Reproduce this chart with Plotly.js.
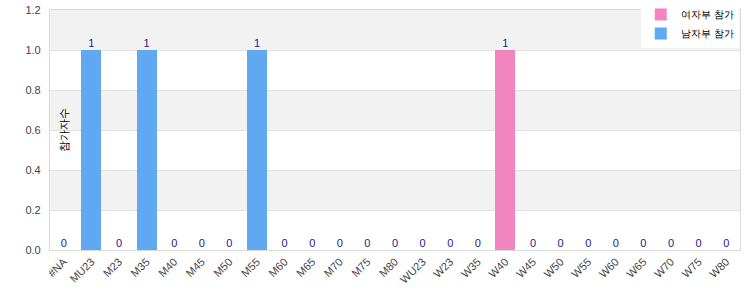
<!DOCTYPE html>
<html>
<head>
<meta charset="utf-8">
<script src="https://cdn.plot.ly/plotly-3.0.1.min.js"></script>
<style>html,body{margin:0;padding:0;background:#fff;}#chart{width:750px;height:300px;}</style>
</head>
<body>
<div id="chart"></div>
<script>
const categories = ["#NA","MU23","M23","M35","M40","M45","M50","M55","M60","M65","M70","M75","M80","WU23","W23","W35","W40","W45","W50","W55","W60","W65","W70","W75","W80"];
const maleValues   = [0,1,0,1,0,0,0,1,0,0,0,0,0,0,0,0,0,0,0,0,0,0,0,0,0];
const femaleValues = [0,0,0,0,0,0,0,0,0,0,0,0,0,0,0,0,1,0,0,0,0,0,0,0,0];
const maleName = "남자부 참가";
const femaleName = "여자부 참가";
const yTitle = "참가자수";
const totals = categories.map((c,i) => maleValues[i] + femaleValues[i]);

const font = "Liberation Sans, Arial, sans-serif";
const traces = [
  {type:"bar", x:categories, y:maleValues, name:maleName, marker:{color:"#60a8f2"}, hoverinfo:"x+y"},
  {type:"bar", x:categories, y:femaleValues, name:femaleName, marker:{color:"#f285bf"}, hoverinfo:"x+y"},
  {type:"scatter", mode:"text", x:categories, y:totals, text:totals.map(String), textposition:"top center",
   textfont:{color:"#1a1a8c", size:11, family:font}, showlegend:false, cliponaxis:false, hoverinfo:"skip"}
];
const bands = [[0.2,0.4],[0.6,0.8],[1.0,1.2]].map(b => ({type:"rect", xref:"paper", yref:"y", x0:0, x1:1, y0:b[0], y1:b[1], fillcolor:"#f2f2f2", line:{width:0}, layer:"below"}));
const layout = {
  width:750, height:300,
  margin:{l:50, r:10, t:10, b:50, autoexpand:false},
  paper_bgcolor:"#fff", plot_bgcolor:"#fff",
  barmode:"stack", bargap:0.27,
  font:{family:font, size:11, color:"#444"},
  showlegend:true,
  legend:{xref:"container", yref:"container", x:0.985, xanchor:"right", y:1, yanchor:"top", bgcolor:"#fff",
          traceorder:"reversed", font:{size:10, color:"#000"}, itemwidth:30, tracegroupgap:0},
  shapes:bands,
  annotations:[{text:yTitle, xref:"container", yref:"paper", x:0.011, y:0.5, xanchor:"center", yanchor:"middle",
                textangle:-90, showarrow:false, font:{size:11, color:"#000", family:font}}],
  xaxis:{type:"category", range:[-0.5, categories.length-0.5], tickangle:-45, automargin:false, showline:true, mirror:true, linecolor:"#d9d9d9", ticks:"", tickfont:{size:11, color:"#444"}},
  yaxis:{range:[0,1.2], dtick:0.2, tickformat:".1f", ticksuffix:"\u00a0\u00a0", automargin:false, showgrid:true, gridcolor:"#e2e2e2", zeroline:false,
         showline:true, mirror:true, linecolor:"#d9d9d9", tickfont:{size:11, color:"#444"}}
};
Plotly.newPlot("chart", traces, layout, {displayModeBar:false, staticPlot:true});
</script>
</body>
</html>
